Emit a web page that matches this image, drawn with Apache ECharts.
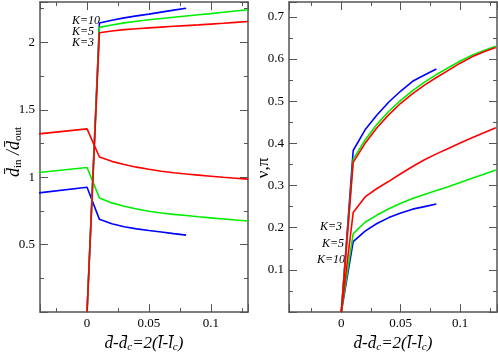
<!DOCTYPE html>
<html>
<head>
<meta charset="utf-8">
<script src="https://cdn.jsdelivr.net/npm/echarts@6/dist/echarts.min.js"></script>
<style>
  html, body { margin: 0; padding: 0; background: #fff; }
  #chart { width: 498px; height: 358px; }
</style>
</head>
<body>
<div id="chart"></div>
<script>
// x positions
const xBelow = [-0.04, 0];
const xLong = [0.01, 0.02, 0.03, 0.04, 0.05, 0.06, 0.07, 0.08, 0.09, 0.10, 0.11, 0.12, 0.13];
const xShort = [0.01, 0.02, 0.03, 0.04, 0.05, 0.06, 0.07, 0.08];

// left panel: d_in / d_out
const redBelow = [1.321, 1.359];
const greenBelow = [1.034, 1.072];
const blueBelow = [0.883, 0.926];
const redLow = [1.15, 1.118, 1.095, 1.075, 1.059, 1.045, 1.034, 1.024, 1.016, 1.008, 1.0, 0.993, 0.986];
const greenLow = [0.847, 0.81, 0.785, 0.765, 0.748, 0.735, 0.725, 0.716, 0.707, 0.699, 0.691, 0.683, 0.676];
const blueLow = [0.688, 0.655, 0.633, 0.617, 0.605, 0.594, 0.582, 0.571];
const redHigh = [2.072, 2.085, 2.095, 2.102, 2.108, 2.114, 2.12, 2.125, 2.13, 2.136, 2.142, 2.149, 2.155];
const greenHigh = [2.112, 2.13, 2.145, 2.157, 2.168, 2.178, 2.187, 2.196, 2.205, 2.214, 2.224, 2.233, 2.242];
const blueHigh = [2.144, 2.165, 2.182, 2.197, 2.21, 2.225, 2.24, 2.254];

// right panel: nu (upper) and pi (lower)
const nuRed = [0.355, 0.4, 0.437, 0.468, 0.495, 0.518, 0.538, 0.556, 0.573, 0.59, 0.605, 0.617, 0.627];
const nuGreen = [0.362, 0.408, 0.445, 0.476, 0.502, 0.525, 0.545, 0.563, 0.579, 0.595, 0.609, 0.62, 0.63];
const nuBlue = [0.383, 0.432, 0.467, 0.498, 0.524, 0.547, 0.562, 0.576];
const piRed = [0.236, 0.273, 0.293, 0.31, 0.328, 0.345, 0.361, 0.375, 0.388, 0.401, 0.413, 0.425, 0.437];
const piGreen = [0.186, 0.213, 0.23, 0.245, 0.258, 0.269, 0.279, 0.288, 0.297, 0.307, 0.317, 0.327, 0.337];
const piBlue = [0.167, 0.192, 0.21, 0.224, 0.235, 0.244, 0.25, 0.256];

const origin = [[0, 0]];

const RED = '#ff0000', GREEN = '#00ee00', BLUE = '#0000ff';
const FONT = 'Liberation Serif';
const AXIS = '#555';

function pts(xs, ys) {
    return xs.map((x, i) => [x, ys[i]]);
}

function line(data, color, panel) {
    return {
        type: 'line',
        data: data,
        xAxisIndex: panel * 2,
        yAxisIndex: panel * 2,
        showSymbol: false,
        symbol: 'none',
        silent: true,
        animation: false,
        lineStyle: { color: color, width: 1.6 },
    };
}

function xAx(grid, min, max, pos, withLabel, nameText) {
    return {
        type: 'value', gridIndex: grid, position: pos, min: min, max: max, splitNumber: 4,
        axisLine: { show: true, onZero: false, lineStyle: { color: AXIS, width: 1.5 } },
        axisTick: { show: true, inside: true, length: 8, lineStyle: { color: AXIS } },
        minorTick: { show: true, splitNumber: 2, length: 4, lineStyle: { color: AXIS } },
        splitLine: { show: false },
        axisLabel: {
            show: withLabel, showMinLabel: false, showMaxLabel: false, margin: 5,
            fontFamily: FONT, fontSize: 13, color: '#000',
        },
        name: nameText || '',
        nameLocation: 'middle',
        nameGap: 21,
        nameTextStyle: {
            rich: {
                i: { fontFamily: FONT, fontStyle: 'italic', fontSize: 17, color: '#000' },
                s: { fontFamily: FONT, fontStyle: 'italic', fontSize: 11, color: '#000', verticalAlign: 'bottom', padding: [8, 0, 0, 0] },
            },
        },
    };
}

function yAx(grid, max, pos, withLabel, nameText, gap, pad) {
    return {
        type: 'value', gridIndex: grid, position: pos, min: 0, max: max,
        splitNumber: grid === 0 ? 5 : 7,
        axisLine: { show: true, onZero: false, lineStyle: { color: AXIS, width: 1.5 } },
        axisTick: { show: true, inside: true, length: 8, lineStyle: { color: AXIS } },
        minorTick: { show: true, splitNumber: 2, length: 4, lineStyle: { color: AXIS } },
        splitLine: { show: false },
        axisLabel: {
            show: withLabel, showMinLabel: false, showMaxLabel: false, margin: 5,
            fontFamily: FONT, fontSize: 13, color: '#000',
        },
        name: nameText || '',
        nameLocation: 'middle',
        nameGap: gap || 20,
        nameMoveOverlap: false,
        nameRotate: 90,
        nameTextStyle: {
            padding: pad || 0,
            rich: {
                i: { fontFamily: FONT, fontStyle: 'italic', fontSize: 18, color: '#000' },
                n: { fontFamily: FONT, fontSize: 17, color: '#000' },
                s: { fontFamily: FONT, fontStyle: 'normal', fontSize: 11, color: '#000', verticalAlign: 'bottom', padding: [8, 0, 0, 0] },
            },
        },
    };
}

const xTitle = '{i|d\u0304-d\u0304}{s|c}{i|=2(l\u0304-l\u0304}{s|c}{i|)}';
const yLeftTitle = '{i|d\u0304}{s|in}{i| /d\u0304}{s|out}';
const yRightTitle = '{n|\u03bd,\u03c0}';

const chart = echarts.init(document.getElementById('chart'), null, { renderer: 'canvas' });

const series = [
    // left panel
    line(pts(xBelow, blueBelow).concat(pts(xShort, blueLow)), BLUE, 0),
    line(origin.concat(pts(xShort, blueHigh)), BLUE, 0),
    line(pts(xBelow, greenBelow).concat(pts(xLong, greenLow)), GREEN, 0),
    line(origin.concat(pts(xLong, greenHigh)), GREEN, 0),
    line(pts(xBelow, redBelow).concat(pts(xLong, redLow)), RED, 0),
    line(origin.concat(pts(xLong, redHigh)), RED, 0),
    // right panel
    line(origin.concat(pts(xShort, nuBlue)), BLUE, 1),
    line(origin.concat(pts(xShort, piBlue)), BLUE, 1),
    line(origin.concat(pts(xLong, nuGreen)), GREEN, 1),
    line(origin.concat(pts(xLong, piGreen)), GREEN, 1),
    line(origin.concat(pts(xLong, nuRed)), RED, 1),
    line(origin.concat(pts(xLong, piRed)), RED, 1),
];

const kStyle = { fontFamily: FONT, fontStyle: 'italic', fontSize: 12, fill: '#000' };

const option = {
    animation: false,
    backgroundColor: '#fff',
    grid: [
        { left: 40, top: 2, width: 208, height: 321 },
        { left: 289, top: 2, width: 208, height: 321 },
    ],
    xAxis: [
        xAx(0, -0.038, 0.13, 'bottom', true, xTitle),
        xAx(0, -0.038, 0.13, 'top', false),
        xAx(1, -0.044, 0.131, 'bottom', true, xTitle),
        xAx(1, -0.044, 0.131, 'top', false),
    ],
    yAxis: [
        yAx(0, 2.3, 'left', true, yLeftTitle, 16, [0, 0, 0, 10]),
        yAx(0, 2.3, 'right', false),
        yAx(1, 0.735, 'left', true, yRightTitle, 17, [0, 22, 0, 0]),
        yAx(1, 0.735, 'right', false),
    ],
    series: series,
    graphic: [
        { type: 'text', left: 72, top: 15, style: Object.assign({ text: 'K=10' }, kStyle) },
        { type: 'text', left: 72, top: 26, style: Object.assign({ text: 'K=5' }, kStyle) },
        { type: 'text', left: 72, top: 37, style: Object.assign({ text: 'K=3' }, kStyle) },
        { type: 'text', right: 156, top: 221, style: Object.assign({ text: 'K=3' }, kStyle) },
        { type: 'text', right: 154, top: 238, style: Object.assign({ text: 'K=5' }, kStyle) },
        { type: 'text', right: 153, top: 254, style: Object.assign({ text: 'K=10' }, kStyle) },
    ],
};

chart.setOption(option);
</script>
</body>
</html>
